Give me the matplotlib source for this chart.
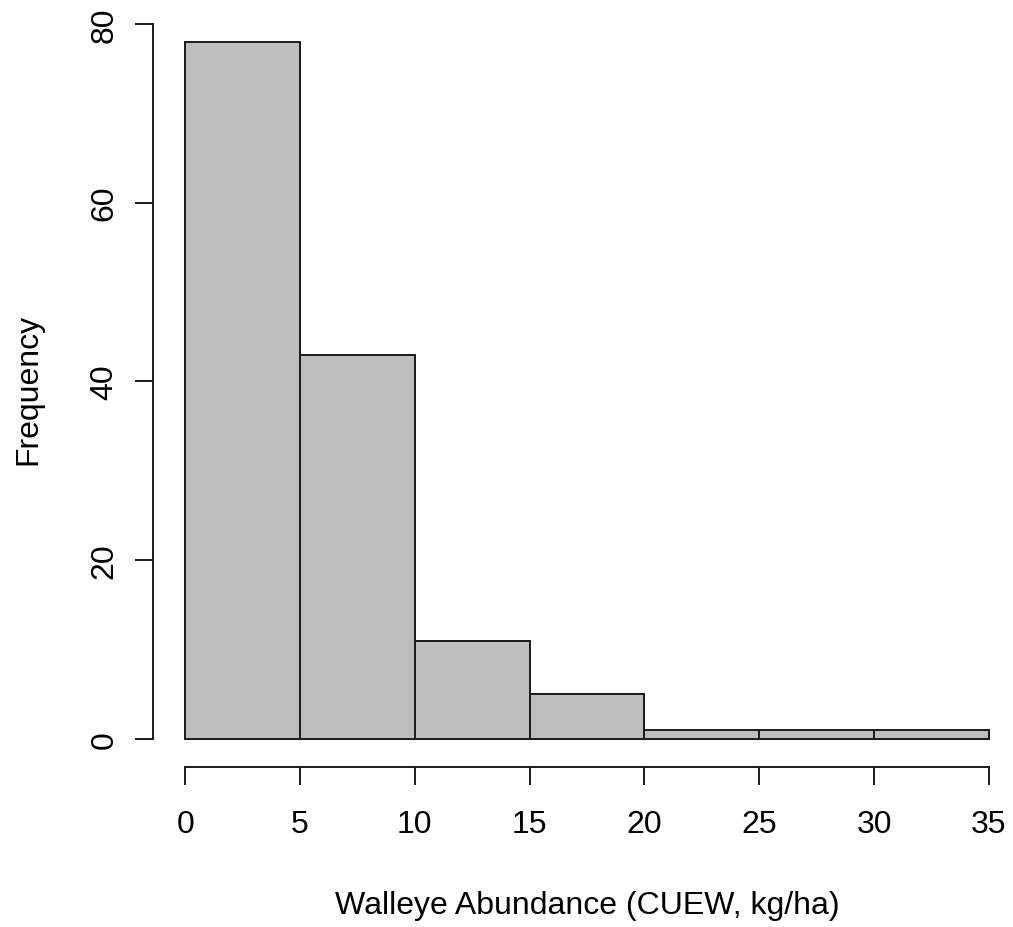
import numpy as np
import matplotlib
matplotlib.use('Agg')
import matplotlib.pyplot as plt

plt.rcParams['font.family'] = ['Liberation Sans', 'DejaVu Sans']

# histogram of walleye abundance, bins of width 5
bin_left = [0, 5, 10, 15, 20, 25, 30]
counts = [78, 43, 11, 5, 1, 1, 1]
bin_width = 5
x_ticks = [0, 5, 10, 15, 20, 25, 30, 35]
y_ticks = [0, 20, 40, 60, 80]

W, H = 1013, 928
fig = plt.figure(figsize=(W / 100, H / 100), dpi=100)
# plot region in pixels (R style usr extension of 4%)
left, right, top, bottom = 153, 1021, 15, 767.7
ax = fig.add_axes([left / W, 1 - bottom / H, (right - left) / W, (bottom - top) / H])

lw = 1.4
ax.bar(bin_left, counts, width=bin_width, align='edge',
       color='#bebebe', edgecolor='#1a1a1a', linewidth=lw)

ax.set_xlim(-1.4, 36.4)
ax.set_ylim(-3.12, 81.12)

for s in ['top', 'right']:
    ax.spines[s].set_visible(False)
ax.spines['left'].set_bounds(0, 80)
ax.spines['bottom'].set_bounds(0, 35)
for s in ['left', 'bottom']:
    ax.spines[s].set_linewidth(lw)
    ax.spines[s].set_color('#1a1a1a')
    ax.spines[s].set_capstyle('projecting')

ax.set_xticks(x_ticks)
ax.set_yticks(y_ticks)
ax.tick_params(axis='both', length=13, width=lw, color='#1a1a1a', labelsize=23)
ax.tick_params(axis='x', pad=17.5)
ax.tick_params(axis='y', pad=11, labelrotation=90)
for lab in ax.get_yticklabels():
    lab.set_verticalalignment('center')

fig.text(587 / W, 1 - 906 / H, 'Walleye Abundance (CUEW, kg/ha)',
         ha='center', va='center', fontsize=23)
fig.text(28 / W, 1 - 389 / H, 'Frequency', rotation=90,
         ha='center', va='center', fontsize=23)

fig.savefig('out.png', dpi=100)
